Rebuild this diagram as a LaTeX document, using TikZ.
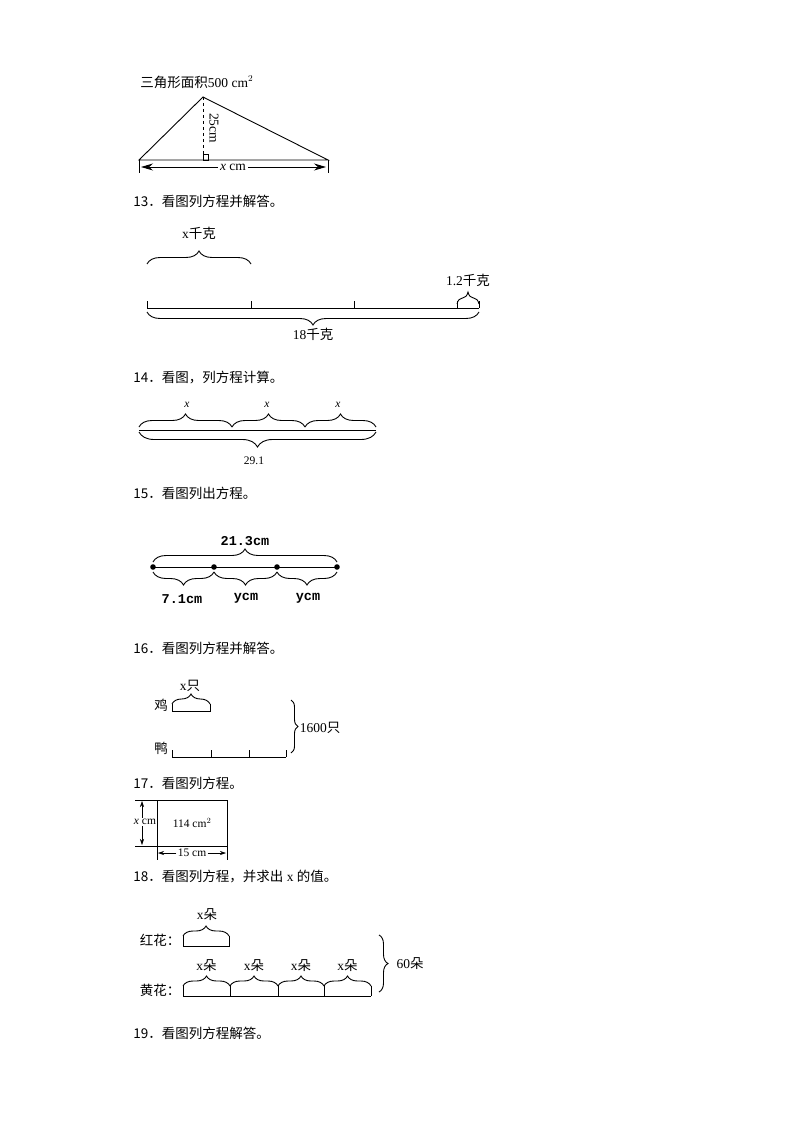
\documentclass[tikz,border=0pt]{standalone}
\usepackage{fontspec}
\setmainfont{Liberation Serif}
\newfontfamily\cjk{Noto Sans CJK SC}
\newfontfamily\mono{Liberation Mono}
\usetikzlibrary{decorations.pathreplacing,arrows.meta}
\begin{document}
\begin{tikzpicture}[x=1pt,y=-1pt,line width=0.9pt,
  br/.style={decorate,decoration={brace,amplitude=#1}},br/.default=13,
  txt/.style={inner sep=0pt,font=\fontsize{13.5}{13.5}\selectfont},
  qn/.style={inner sep=0pt,anchor=west,font=\fontsize{13.5}{13.5}\selectfont},
  sm/.style={inner sep=0pt,font=\fontsize{11.5}{11.5}\selectfont},
  mn/.style={inner sep=0pt,font=\mono\bfseries\fontsize{13.5}{13.5}\selectfont}]
\useasboundingbox (0,0) rectangle (794,1123);
% triangle
\node[qn] (t0) at (140,82) {{\cjk 三角形面积}500 cm$^2$};
\coordinate (A) at (203,97); \coordinate (B) at (139,160); \coordinate (C) at (328,160);
\draw (B)--(A)--(C)--cycle;
\draw[dashed] (A)--(203,160);
\draw[line width=0.8pt] (203,160) rectangle (208,154);
\node[txt,rotate=-90] (h) at (214,128) {25cm};
\draw (B)--(139,173); \draw (C)--(328,173);
\coordinate (aL) at (141,167); \coordinate (aR) at (326,167);
\node[txt,fill=white,inner sep=2pt] (xc) at (233,167) {\textit{x} cm};
\draw[-{Stealth[length=12pt,width=7pt]}] (xc.west)--(aL);
\draw[-{Stealth[length=12pt,width=7pt]}] (xc.east)--(aR);
% 13
\node[qn] (q13) at (133,201) {\cjk 13．看图列方程并解答。};
\draw[br] (147,264)--(251,264);
\node[txt] (l13a) at (199,233) {x{\cjk 千克}};
\draw (147,308)--(479,308);
\foreach \x in {147,251,354,457,479} \draw (\x,308)--(\x,301);
\draw[br=12] (457,304)--(479,304);
\node[txt] (l13b) at (468,280) {1.2{\cjk 千克}};
\draw[br] (479,312)--(147,312);
\node[txt] (l13c) at (313,334) {18{\cjk 千克}};
% 14
\node[qn] (q14) at (133,378) {\cjk 14．看图，列方程计算。};
\draw[br=13] (139,427)--(232,427);
\draw[br=13] (232,427)--(305,427);
\draw[br=13] (305,427)--(376,427);
\node[sm] at (187,405) {\textit{x}};
\node[sm] at (267,405) {\textit{x}};
\node[sm] at (338,405) {\textit{x}};
\draw (139,430)--(376,430);
\draw[br=15] (376,432)--(139,432);
\node[sm] (l14) at (254,461) {29.1};
% 15
\node[qn] (q15) at (133,493) {\cjk 15．看图列出方程。};
\draw (153,567)--(337,567);
\foreach \x in {153,214,277,337} \fill (\x,567) circle (2.8pt);
\draw[br=13] (153,562)--(337,562);
\node[mn] at (245,541) {21.3cm};
\draw[br=13] (214,572)--(153,572);
\draw[br=13] (277,572)--(214,572);
\draw[br=13] (337,572)--(277,572);
\node[mn] at (182,599) {7.1cm};
\node[mn] at (246,598) {ycm};
\node[mn] at (308,598) {ycm};
% 16
\node[qn] (q16) at (133,648) {\cjk 16．看图列方程并解答。};
\node[txt] (ji) at (161,705) {\cjk 鸡};
\draw[br=10] (172,704)--(210,704);
\draw (172,704)--(172,711)--(210,711)--(210,704);
\node[txt] at (190,686) {x{\cjk 只}};
\node[txt] (ya) at (161,748) {\cjk 鸭};
\draw (172,757)--(286,757);
\foreach \x in {172,211,249,286} \draw (\x,757)--(\x,750);
\draw[br=7] (291,700)--(291,753);
\node[txt] at (320,728) {1600{\cjk 只}};
% 17
\node[qn] (q17) at (133,783) {\cjk 17．看图列方程。};
\draw (157,800) rectangle (227,846);
\node[sm] (ar) at (192,823) {114 cm$^2$};
\draw[line width=0.6pt] (135,800)--(157,800); \draw[line width=0.6pt] (135,846)--(157,846);
\node[sm,fill=white,inner sep=1pt] (xl) at (145,822) {\textit{x} cm};
\draw[line width=0.6pt,-{Stealth[length=6pt,width=4pt]}] (xl.north -| 142,0)--(142,801);
\draw[line width=0.6pt,-{Stealth[length=6pt,width=4pt]}] (xl.south -| 142,0)--(142,845);
\draw[line width=0.6pt] (157,846)--(157,860); \draw[line width=0.6pt] (227,846)--(227,860);
\node[sm,fill=white,inner sep=1pt] (wl) at (192,853) {15 cm};
\draw[line width=0.6pt,-{Stealth[length=6pt,width=4pt]}] (wl.west)--(158,853);
\draw[line width=0.6pt,-{Stealth[length=6pt,width=4pt]}] (wl.east)--(226,853);
% 18
\node[qn] (q18) at (133,877) {{\cjk 18．看图列方程，并求出} x {\cjk 的值。}};
\node[txt] (hh) at (160,940) {\cjk 红花：};
\draw[br=10] (183,936)--(229,936);
\draw (183,936)--(183,946)--(229,946)--(229,936);
\node[txt] at (207,915) {x{\cjk 朵}};
\node[txt] (yh) at (160,990) {\cjk 黄花：};
\draw (183,996)--(371,996);
\foreach \a/\b in {183/230,230/278,278/324,324/371} {
  \draw[br=10] (\a,986)--(\b,986);
  \draw (\a,986)--(\a,996) (\b,986)--(\b,996);
  \node[txt] at ({(\a+\b)/2},966) {x{\cjk 朵}};
}
\draw[br=9] (379,935)--(379,992);
\node[txt] at (410,964) {60{\cjk 朵}};
% 19
\node[qn] (q19) at (133,1033) {\cjk 19．看图列方程解答。};
\end{tikzpicture}
\end{document}
